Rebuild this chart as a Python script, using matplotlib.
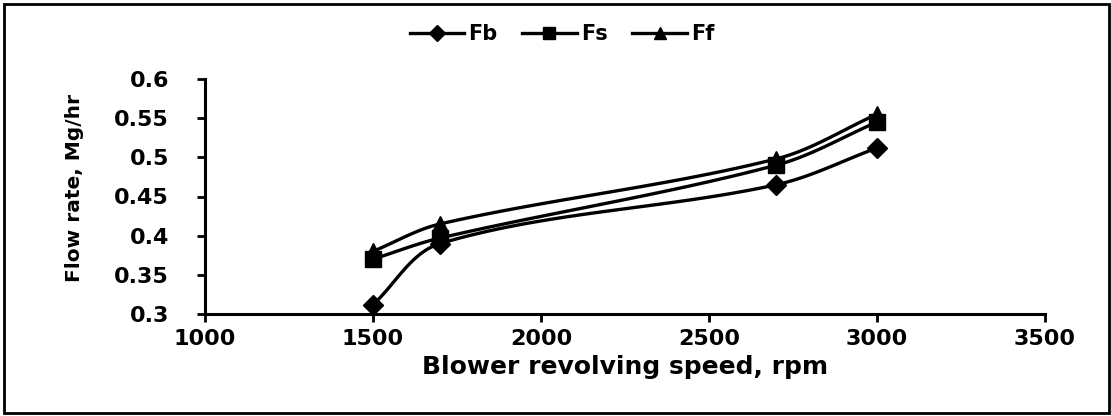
import numpy as np
import matplotlib.pyplot as plt
from matplotlib.patches import Rectangle

speed = [1500, 1700, 2700, 3000]
fb = [0.312, 0.390, 0.465, 0.512]
fs = [0.370, 0.397, 0.490, 0.545]
ff = [0.380, 0.415, 0.498, 0.555]

series_names = ['Fb', 'Fs', 'Ff']
series_markers = ['D', 's', '^']

# pixels per data unit, used so the smoothing behaves like it does on screen
XSCALE = 840 / 2500
YSCALE = 235 / 0.3


def smooth(x, y, n=40):
    """Smoothed line through the points, handles sized by segment length."""
    P = np.column_stack([np.asarray(x, float) * XSCALE, np.asarray(y, float) * YSCALE])
    m = len(P)
    tang = []
    for i in range(m):
        a = P[max(i - 1, 0)]
        b = P[min(i + 1, m - 1)]
        d = b - a
        tang.append(d / np.linalg.norm(d))
    t = np.linspace(0, 1, n)[:, None]
    pts = []
    for i in range(m - 1):
        p1, p2 = P[i], P[i + 1]
        L = np.linalg.norm(p2 - p1) / 3
        c1 = p1 + tang[i] * L
        c2 = p2 - tang[i + 1] * L
        b = (1 - t) ** 3 * p1 + 3 * (1 - t) ** 2 * t * c1 + 3 * (1 - t) * t ** 2 * c2 + t ** 3 * p2
        pts.append(b)
    pts = np.vstack(pts)
    return pts[:, 0] / XSCALE, pts[:, 1] / YSCALE


fig = plt.figure(figsize=(11.11, 4.16), dpi=100)
ax = fig.add_axes([205 / 1111, 1 - 314 / 416, (1045 - 205) / 1111, (314 - 79) / 416])

for vals, name, mk in zip([fb, fs, ff], series_names, series_markers):
    sx, sy = smooth(speed, vals)
    ax.plot(sx, sy, color='black', lw=2.4, zorder=2)
    ax.plot(speed, vals, linestyle='none', marker=mk, color='black',
            markersize=12 if mk != 'D' else 10, zorder=3)
    ax.plot([], [], color='black', lw=2.4, marker=mk,
            markersize=9 if mk != 'D' else 8, label=name)

ax.set_xlim(1000, 3500)
ax.set_ylim(0.3, 0.6)
ax.set_xticks([1000, 1500, 2000, 2500, 3000, 3500])
ax.set_yticks([0.3, 0.35, 0.4, 0.45, 0.5, 0.55, 0.6])
ax.set_yticklabels(['0.3', '0.35', '0.4', '0.45', '0.5', '0.55', '0.6'])
for s in ['top', 'right']:
    ax.spines[s].set_visible(False)
for s in ['left', 'bottom']:
    ax.spines[s].set_linewidth(2.2)
ax.tick_params(axis='both', direction='out', length=6, width=2, labelsize=16)
ax.tick_params(axis='x', pad=5)
ax.tick_params(axis='y', pad=20)
for lab in ax.get_xticklabels() + ax.get_yticklabels():
    lab.set_fontweight('heavy')

ax.set_xlabel('Blower revolving speed, rpm', fontsize=18, fontweight='heavy', labelpad=4)
fig.text(75 / 1111, 1 - 188 / 416, 'Flow rate, Mg/hr', rotation=90, ha='center',
         va='center', fontsize=14.5, fontweight='bold')

leg = fig.legend(loc='center', bbox_to_anchor=(562 / 1111, 1 - 34 / 416), ncol=3,
                 frameon=False, handlelength=2.6, columnspacing=1.2,
                 prop={'weight': 'heavy', 'size': 15}, handletextpad=0.2)

fig.patches.append(Rectangle((4 / 1111, 1 - 413 / 416), 1105 / 1111, 409 / 416,
                             transform=fig.transFigure, fill=False,
                             edgecolor='black', lw=2))

fig.savefig('out.png', dpi=100)
